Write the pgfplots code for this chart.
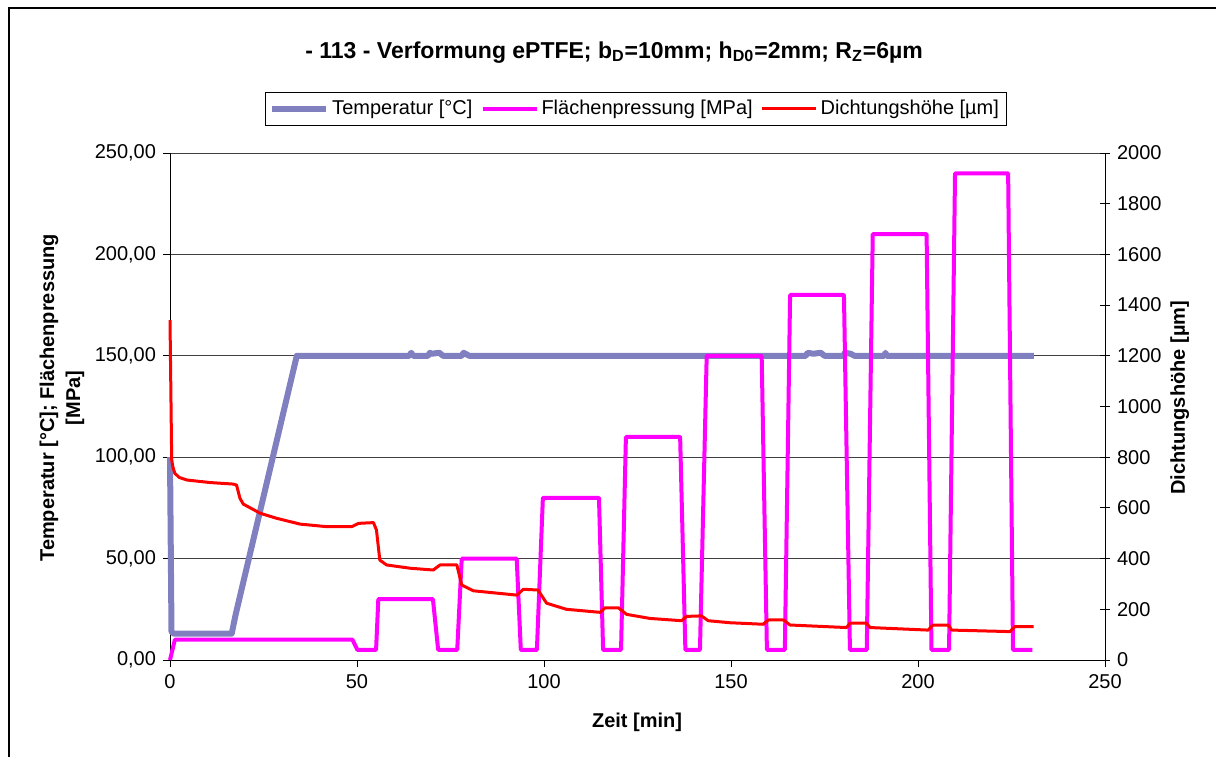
\documentclass[border=0pt]{standalone}
\usepackage{fontspec}
\setmainfont{Liberation Sans}
\usepackage{pgfplots}
\pgfplotsset{compat=1.18}
\definecolor{tempc}{RGB}{128,128,192}
\definecolor{presc}{RGB}{255,0,255}
\definecolor{hoehc}{RGB}{255,0,0}
\begin{document}
\fontsize{10}{12}\selectfont
\begin{tikzpicture}
\useasboundingbox (0,0) rectangle (608pt,378pt);
\draw[line width=0.75pt] (4.5pt,374pt) rectangle (640pt,-20pt);
\begin{axis}[
  at={(85pt,48pt)}, anchor=south west,
  scale only axis, width=467.5pt, height=253.5pt,
  xmin=0, xmax=250, ymin=0, ymax=250,
  xtick={0,50,...,250}, ytick={0,50,...,250},
  axis x line*=bottom, axis y line*=left,
  axis line style={-, black, line width=0.5pt},
  tick align=outside, major tick length=3.5pt,
  tick style={black, line width=0.5pt},
  ymajorgrids, grid style={black!75, line width=0.5pt},
  clip=false,
  /pgf/number format/assume math mode=true,
  ticklabel style={font=\fontsize{10}{12}\selectfont},
  yticklabel style={/pgf/number format/fixed, /pgf/number format/fixed zerofill, /pgf/number format/precision=2, /pgf/number format/use comma},
  xticklabel style={/pgf/number format/1000 sep={}},
  xlabel={\bfseries Zeit [min]},
  xlabel style={at={(axis description cs:0.4995,-0.122)}, anchor=center, font=\fontsize{10}{12}\selectfont},
  ylabel={\bfseries Temperatur [°C]; Flächenpressung\\\bfseries [MPa]},
  ylabel style={at={(axis description cs:-0.1155,0.517)}, anchor=center, rotate=0, align=center, font=\fontsize{10}{13}\selectfont},
  title={\bfseries - 113 - Verformung ePTFE; b\textsubscript{D}=10mm; h\textsubscript{D0}=2mm; R\textsubscript{Z}=6µm},
  title style={at={(axis description cs:0.475,1.199)}, anchor=center, yshift=-6pt, font=\fontsize{11.5}{14}\selectfont},
  legend columns=3,
  legend style={at={(axis description cs:0.498,1.087)}, anchor=center, draw=black, line width=0.5pt,
    font=\fontsize{10}{12}\selectfont, inner sep=2pt, nodes={inner xsep=1.5pt},
    /tikz/every even column/.append style={column sep=2.5pt}},
  legend cell align=left,
  legend image code/.code={\draw[#1] (0cm,0cm) -- (27pt,0cm);},
]
\addplot[tempc, line width=3pt, line join=round] coordinates {
(0,100) (0.4,14) (1,13) (16.5,13) (17.5,22) (33.9,150) (64,150) (64.5,151.5) (65,150) (69,150) (69.5,151.5) (70,151) (72,151.5) (73,150) (78,150) (78.5,151.5) (79.5,150.5) (80,150)
(170,150) (170.5,151.5) (172,151) (174,151.5) (175,150) (180,150) (180.5,151.5) (182,151) (183,150) (191,150) (191.3,151.5) (191.6,150) (231,150)
};
\addlegendentry{Temperatur [°C]}
\addplot[presc, line width=2pt, line join=round] coordinates {
(0,0) (1.3,10) (48.8,10) (50.1,5) (55.1,5) (55.7,30) (70.3,30) (71.7,5) (76.8,5) (78,50) (92.7,50) (93.8,5) (98.1,5) (99.7,80) (114.7,80) (115.8,5) (120.6,5) (121.9,110) (136.4,110) (137.8,5) (141.7,5) (143.5,150) (158.2,150) (159.6,5) (164.4,5) (165.8,180) (180.2,180) (181.8,5) (186.3,5) (187.9,210) (202.3,210) (203.6,5) (208.3,5) (209.9,240) (224.1,240) (225.4,5) (230.6,5)
};
\addlegendentry{Flächenpressung [MPa]}
\addlegendimage{hoehc, line width=1.5pt}
\addlegendentry{Dichtungshöhe [µm]}
\end{axis}
\begin{axis}[
  at={(85pt,48pt)}, anchor=south west,
  scale only axis, width=467.5pt, height=253.5pt,
  xmin=0, xmax=250, ymin=0, ymax=2000,
  axis x line=none, axis y line*=right,
  axis line style={-, black, line width=0.5pt},
  ytick={0,200,...,2000},
  tick align=center, major tick length=5pt,
  tick style={black, line width=0.5pt},
  clip=false,
  /pgf/number format/assume math mode=true,
  ticklabel style={font=\fontsize{10}{12}\selectfont},
  yticklabel style={/pgf/number format/1000 sep={}},
  ylabel={\bfseries Dichtungshöhe [µm]},
  ylabel style={at={(axis description cs:1.080,0.517)}, anchor=center, font=\fontsize{10}{12}\selectfont},
]
\addplot[hoehc, line width=1.5pt, line join=round] coordinates {
(0,1341) (0.2,1100) (0.45,789) (0.8,760) (1.3,736) (2.5,720) (4.5,710) (10.7,700) (16.9,694) (17.8,690) (18.7,638) (19.6,615) (24.1,579) (28.5,559) (34.8,536) (41.9,526) (48.6,526) (50.4,539) (54.4,542) (55.2,513) (56.1,394) (57.9,375) (64.2,362) (70.4,355) (72.2,375) (76.7,375) (78,296) (81.1,273) (92.7,256) (94.5,279) (98.4,276) (100.7,224) (106,200) (115,188) (116.3,206) (119.9,206) (122.1,180) (128.3,164) (136.8,155) (138.1,172) (142.1,174) (143.9,155) (149.7,147) (158.6,141) (160,158) (164,158) (165.8,138) (180.9,128) (181.8,145) (186.2,145) (187.2,128) (202.7,118) (204,138) (208.1,138) (209,118) (224.6,112) (225.9,132) (230.9,132)
};
\end{axis}
\end{tikzpicture}
\end{document}
